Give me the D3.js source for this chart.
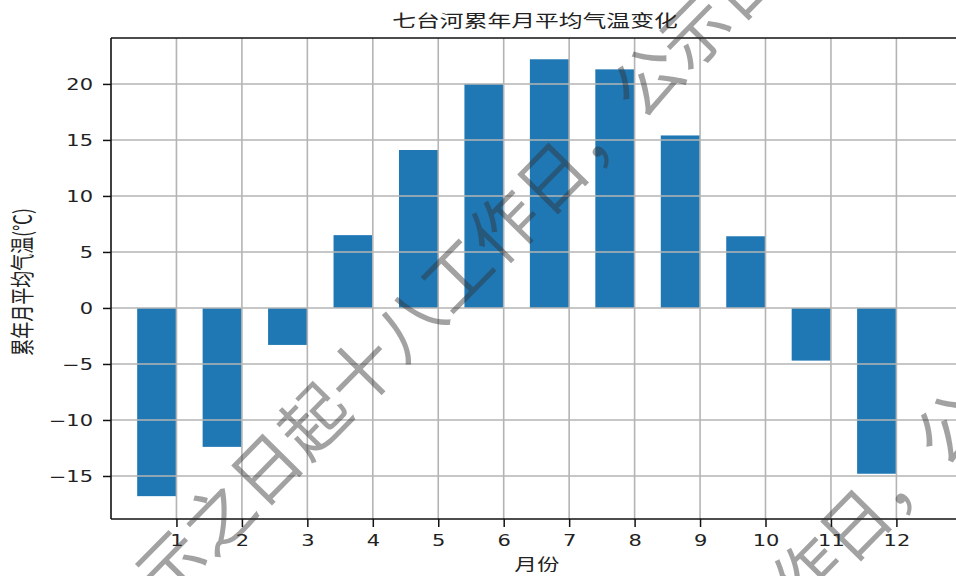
<!DOCTYPE html>
<html>
<head>
<meta charset="utf-8">
<script src="https://d3js.org/d3.v7.min.js"></script>
<style>
  html, body { margin: 0; padding: 0; background: #fff; overflow: hidden; }
  svg { display: block; }
</style>
</head>
<body>
<svg id="chart" width="956" height="576"></svg>
<script>
// ---- data ----
const months = [1, 2, 3, 4, 5, 6, 7, 8, 9, 10, 11, 12];
const temps = [-16.8, -12.4, -3.3, 6.5, 14.1, 20.0, 22.2, 21.3, 15.4, 6.4, -4.7, -14.8];
const yTicks = [-15, -10, -5, 0, 5, 10, 15, 20];
const xTickLabels = ["1", "2", "3", "4", "5", "6", "7", "8", "9", "10", "11", "12"];
const titleText = "七台河累年月平均气温变化";
const xLabelText = "月份";
const yLabelText = "累年月平均气温(℃)";
const watermarkText = "示之日起十八工作日，公示日期";

// ---- layout ----
const W = 956, H = 576;
const plot = { left: 111, top: 38, bottom: 519 };
const stretch = 1.4; // horizontal text stretch seen in the reference
const cjk = "'Noto Sans CJK SC', 'Noto Sans', sans-serif";
const latin = "'DejaVu Sans', sans-serif";

const svg = d3.select("#chart");

const x = d3.scaleLinear().domain([0, 13]).range([plot.left, plot.left + 13 * 65.45]);
const y = d3.scaleLinear().domain([-18.84, 24.1]).range([plot.bottom, plot.top]);
const barW = 0.6;

// bars (right edge aligned with the month tick)
svg.append("g").selectAll("rect")
  .data(months.map((m, i) => ({ m, v: temps[i] })))
  .join("rect")
  .attr("x", d => x(d.m - barW))
  .attr("width", d => x(d.m) - x(d.m - barW))
  .attr("y", d => y(Math.max(0, d.v)))
  .attr("height", d => Math.abs(y(d.v) - y(0)))
  .attr("fill", "#1f77b4");

// grid (drawn over bars)
const grid = svg.append("g").attr("stroke", "#b4b4b4").attr("stroke-width", 1.6);
grid.selectAll("line.v").data(months).join("line").attr("class", "v")
  .attr("x1", d => x(d)).attr("x2", d => x(d))
  .attr("y1", plot.top).attr("y2", plot.bottom);
grid.selectAll("line.h").data(yTicks).join("line").attr("class", "h")
  .attr("y1", d => y(d)).attr("y2", d => y(d))
  .attr("x1", plot.left).attr("x2", W);

// axes with d3 axis generators
const yAxis = svg.append("g").attr("transform", `translate(${plot.left},0)`)
  .call(d3.axisLeft(y).tickValues(yTicks).tickSize(8).tickPadding(0).tickFormat(d3.format("d")));
const xAxis = svg.append("g").attr("transform", `translate(0,${plot.bottom})`)
  .call(d3.axisBottom(x).tickValues(months).tickSize(8).tickPadding(0)
    .tickFormat((d, i) => xTickLabels[i]));

[yAxis, xAxis].forEach(a => {
  a.select(".domain").remove();
  a.selectAll(".tick line").attr("stroke", "#111").attr("stroke-width", 1.5);
  a.selectAll(".tick text").attr("fill", "#222").style("font-family", latin).style("font-size", "15px");
});
yAxis.selectAll(".tick text")
  .attr("x", null).attr("dy", null)
  .attr("dominant-baseline", "central")
  .attr("text-anchor", "end")
  .attr("transform", `translate(-18,0) scale(${stretch},1)`);
xAxis.selectAll(".tick text")
  .attr("y", null).attr("dy", null)
  .attr("dominant-baseline", "central")
  .attr("transform", `translate(0,22) scale(${stretch},1)`);

// spines
const sp = svg.append("g").attr("stroke", "#111").attr("stroke-width", 1.6).attr("fill", "none");
sp.append("line").attr("x1", plot.left).attr("x2", plot.left).attr("y1", plot.top).attr("y2", plot.bottom);
sp.append("line").attr("x1", plot.left).attr("x2", W).attr("y1", plot.bottom).attr("y2", plot.bottom);
sp.append("line").attr("x1", plot.left).attr("x2", W).attr("y1", plot.top).attr("y2", plot.top);

// title & labels
svg.append("text").text(titleText)
  .attr("transform", `translate(535,20) scale(${stretch},1)`)
  .attr("text-anchor", "middle").attr("dominant-baseline", "central")
  .style("font-family", cjk).style("font-size", "17px").attr("fill", "#222");

svg.append("text").text(xLabelText)
  .attr("transform", `translate(537,563) scale(${stretch},1)`)
  .attr("text-anchor", "middle").attr("dominant-baseline", "central")
  .style("font-family", cjk).style("font-size", "16px").attr("fill", "#222");

svg.append("text").text(yLabelText)
  .attr("transform", `translate(21,282) scale(${stretch},1) rotate(-90)`)
  .attr("text-anchor", "middle").attr("dominant-baseline", "central")
  .style("font-family", cjk).style("font-size", "17px").attr("fill", "#222");

// watermark overlay
const wm = svg.append("g").attr("opacity", 0.45).style("pointer-events", "none");
const wmLines = [[144, 587], [447, 934]];
wm.selectAll("text").data(wmLines).join("text").text(watermarkText)
  .attr("transform", d => `translate(${d[0]},${d[1]}) rotate(-45.5)`)
  .attr("dominant-baseline", "central")
  .style("font-family", cjk).style("font-size", "68px").style("font-weight", 400)
  .attr("fill", "#333");
</script>
</body>
</html>
